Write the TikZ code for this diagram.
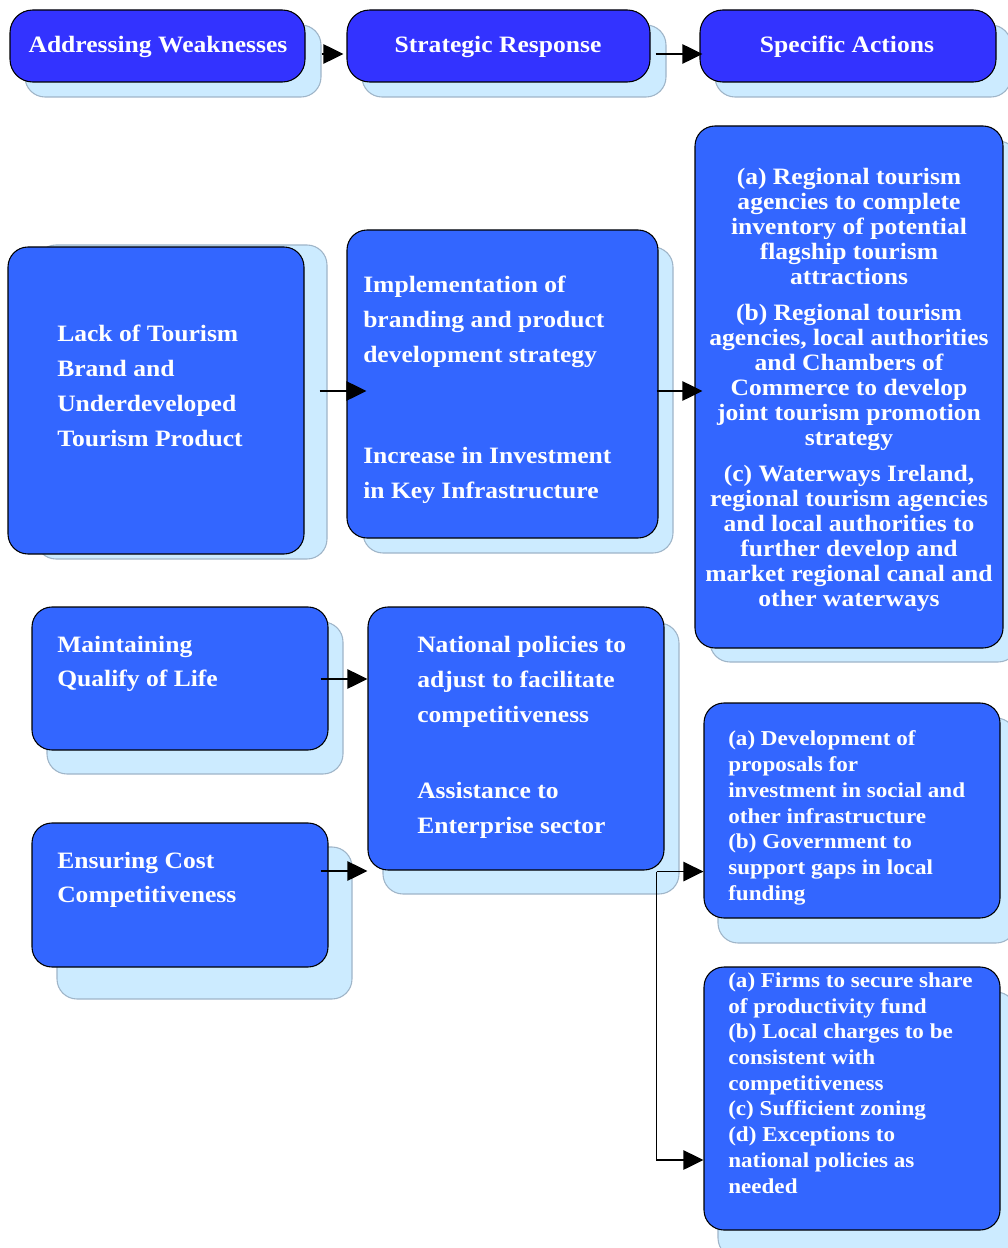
\documentclass[tikz,border=0pt]{standalone}
\usepackage{fontspec}
\setmainfont{Liberation Serif}[FakeStretch=1.09]
\usetikzlibrary{arrows.meta,calc}
\definecolor{hdrblue}{HTML}{3333FF}
\definecolor{boxblue}{HTML}{3366FF}
\definecolor{shadefill}{HTML}{CCEBFF}
\definecolor{shadeline}{HTML}{9FB5C8}
\newcommand{\placebox}[6]{\node[#6, minimum width={(#4-#2)*0.75pt}, minimum height={(#5-#3)*0.75pt}] (#1) at ({(#2+#4)/2},{(#3+#5)/2}) {};}
\tikzset{
  x=0.75pt, y=-0.75pt,
  hdrbox/.style={draw=black, line width=0.8pt, fill=hdrblue, rounded corners=17pt, inner sep=0pt},
  mainbox/.style={draw=black, line width=0.8pt, fill=boxblue, rounded corners=15pt, inner sep=0pt},
  shadebox/.style={draw=shadeline, line width=0.8pt, fill=shadefill, rounded corners=15pt, inner sep=0pt},
  hdrtext/.style={text=white, inner sep=0pt, font={\fontsize{17.6}{20}\selectfont\bfseries}},
  bigtext/.style={text=white, inner sep=0pt, align=left, anchor=west, font={\fontsize{17.6}{26.25}\selectfont\bfseries}},
  midtext/.style={text=white, inner sep=0pt, align=left, anchor=west, font={\fontsize{17.6}{25.5}\selectfont\bfseries}},
  righttext/.style={text=white, inner sep=0pt, align=center, font={\fontsize{17.6}{18.75}\selectfont\bfseries}},
  smalltext/.style={text=white, inner sep=0pt, align=left, anchor=west, font={\fontsize{15.9}{19.3}\selectfont\bfseries}},
  arr/.style={draw=black, line width=1.1pt, -{Triangle[length=15pt, width=14.5pt]}},
}
\begin{document}
\begin{tikzpicture}
\useasboundingbox (0,0) rectangle (1007,1248);
\fill[white] (0,0) rectangle (1007,1248);
% shadows
\placebox{h1s}{25}{25}{321}{97}{shadebox}
\placebox{h2s}{362}{25}{666}{97}{shadebox}
\placebox{h3s}{715}{25}{1011}{97}{shadebox}
\placebox{lacks}{36}{245}{327}{559}{shadebox}
\placebox{impls}{363}{247}{673}{553}{shadebox}
\placebox{rights}{710}{141}{1018}{662}{shadebox}
\placebox{maints}{47}{622}{343}{774}{shadebox}
\placebox{enss}{57}{847}{352}{999}{shadebox}
\placebox{nats}{383}{623}{679}{894}{shadebox}
\placebox{devs}{718}{718}{1016}{943}{shadebox}
\placebox{firmss}{718}{992}{1016}{1258}{shadebox}
% boxes
\placebox{h1}{10}{10}{305}{82}{hdrbox}
\placebox{h2}{347}{10}{650}{82}{hdrbox}
\placebox{h3}{700}{10}{996}{82}{hdrbox}
\placebox{lack}{8}{247}{304}{554}{mainbox}
\placebox{impl}{347}{230}{658}{538}{mainbox}
\placebox{right}{695}{126}{1003}{648}{mainbox}
\placebox{maint}{32}{607}{328}{750}{mainbox}
\placebox{ens}{32}{823}{328}{967}{mainbox}
\placebox{nat}{368}{607}{664}{870}{mainbox}
\placebox{dev}{704}{703}{1000}{918}{mainbox}
\placebox{firms}{704}{967}{1000}{1230}{mainbox}
% texts
\node[hdrtext] (h1t) at (158,47) {Addressing Weaknesses};
\node[hdrtext] (h2t) at (498,47) {Strategic Response};
\node[hdrtext] (h3t) at (847,47) {Specific Actions};
\node[bigtext] (lackt) at (57,386) {Lack of Tourism\\Brand and\\Underdeveloped\\Tourism Product};
\node[bigtext] (implt) at (363,390) {Implementation of\\branding and product\\development strategy\\[49.5pt]Increase in Investment\\in Key Infrastructure};
\node[righttext] (rightt) at (849,390) {(a) Regional tourism\\agencies to complete\\inventory of potential\\flagship tourism\\attractions\\[8.25pt](b) Regional tourism\\agencies, local authorities\\and Chambers of\\Commerce to develop\\joint tourism promotion\\strategy\\[8.25pt](c) Waterways Ireland,\\regional tourism agencies\\and local authorities to\\further develop and\\market regional canal and\\other waterways};
\node[midtext] (maintt) at (57,664) {Maintaining\\Qualify of Life};
\node[midtext] (enst) at (57,880) {Ensuring Cost\\Competitiveness};
\node[bigtext] (natt) at (417,737) {National policies to\\adjust to facilitate\\competitiveness\\[30.75pt]Assistance to\\Enterprise sector};
\node[smalltext] (devt) at (728,818) {(a) Development of\\proposals for\\investment in social and\\other infrastructure\\(b) Government to\\support gaps in local\\funding};
\node[smalltext] (firmst) at (728,1083) {(a) Firms to secure share\\of productivity fund\\(b) Local charges to be\\consistent with\\competitiveness\\(c) Sufficient zoning\\(d) Exceptions to\\national policies as\\needed};
% connectors
\coordinate (a1) at ($(h1.east)+(16,8)$);
\draw[arr] (a1) -- ($(h2.west)+(-3,8)$);
\coordinate (a2) at ($(h2.east)+(5,8)$);
\draw[arr] (a2) -- ($(h3.west)+(3,8)$);
\coordinate (a3) at ($(lack.east)+(15,-9.5)$);
\draw[arr] (a3) -- ($(impl.west)+(20,7)$);
\coordinate (a4) at ($(impl.east)+(-2,7)$);
\draw[arr] (a4) -- ($(right.west)+(8,4)$);
\coordinate (a5) at ($(maint.east)+(-8,0.5)$);
\draw[arr] (a5) -- (a5 -| nat.west);
\coordinate (a6) at ($(ens.east)+(-8,-24)$);
\draw[arr] (a6) -- (a6 -| nat.west);
\coordinate (nb) at ($(nat.south east)+(-8,1)$);
\draw[arr] (nb) -- (nb -| dev.west);
\draw[arr] (nb) |- ($(firms.west)+(0,61.5)$);
\end{tikzpicture}
\end{document}
